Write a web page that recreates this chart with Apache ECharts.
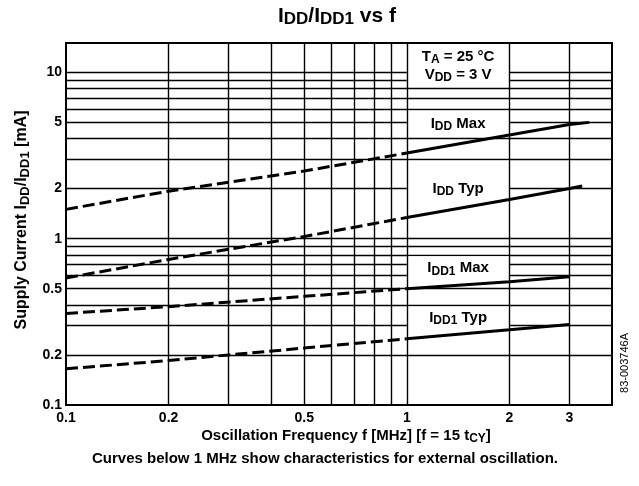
<!DOCTYPE html>
<html><head><meta charset="utf-8">
<script src="https://cdn.jsdelivr.net/npm/echarts@6/dist/echarts.min.js"></script>
<style>html,body{margin:0;padding:0;background:#fff}#c{width:639px;height:486px}</style>
</head><body><div id="c"></div>
<script>
// ---- data ----
const xGridValues = [0.1, 0.2, 0.3, 0.4, 0.5, 0.6, 0.7, 0.8, 0.9, 1, 2, 3];
const xTickLabels = [0.1, 0.2, 0.5, 1, 2, 3];
const yGridValues = [0.1, 0.2, 0.3, 0.4, 0.5, 0.6, 0.7, 0.8, 0.9, 1, 2, 3, 4, 5, 6, 7, 8, 9, 10];
const yTickLabels = [0.1, 0.2, 0.5, 1, 2, 5, 10];

// frequency (MHz), current (mA); dashed = external oscillation (< 1 MHz)
const iddMaxDashed  = [[0.1, 1.5], [0.2, 1.93], [0.5, 2.55], [1, 3.27]];
const iddMaxSolid   = [[1, 3.27], [2, 4.2], [3, 4.85], [3.43, 5.0]];
const iddTypDashed  = [[0.1, 0.58], [0.2, 0.75], [0.5, 1.03], [1, 1.34]];
const iddTypSolid   = [[1, 1.34], [2, 1.72], [3, 2.0], [3.27, 2.07]];
const idd1MaxDashed = [[0.1, 0.355], [0.2, 0.39], [0.5, 0.45], [1, 0.5]];
const idd1MaxSolid  = [[1, 0.5], [2, 0.55], [3, 0.59]];
const idd1TypDashed = [[0.1, 0.165], [0.2, 0.185], [0.3, 0.2], [0.5, 0.22], [1, 0.25]];
const idd1TypSolid  = [[1, 0.25], [2, 0.283], [3, 0.305]];

// label boxes (blank out horizontal grid lines): [x1, y1, x2, y2, text]
const labelBoxes = [
  [1, 8, 2, 15, '{n|T}{s|A}{n| = 25 °C}\n{n|V}{s|DD}{n| = 3 V}'],
  [1, 4, 2, 6, '{n|I}{s|DD}{n| Max}'],
  [1, 1.33, 2, 3, '{n|I}{s|DD}{n| Typ}'],
  [1, 0.55, 2, 0.8, '{n|I}{s|DD1}{n| Max}'],
  [1, 0.28, 2, 0.4, '{n|I}{s|DD1}{n| Typ}']
];

const FONT = '"Liberation Sans", Arial, Helvetica, sans-serif';
const chart = echarts.init(document.getElementById('c'), null, {renderer: 'canvas'});

const richSub = {
  n: {fontFamily: FONT, fontWeight: 'bold', fontSize: 15, color: '#000', lineHeight: 18},
  s: {fontFamily: FONT, fontWeight: 'bold', fontSize: 12, color: '#000', lineHeight: 12, verticalAlign: 'bottom'}
};
const PAD = 1.022; // keep the bounding grid lines of each box visible

function lineSeries(data, dashed) {
  return {
    type: 'line', data: data, showSymbol: false, symbol: 'none', z: 10, silent: true,
    lineStyle: {color: '#000', width: 3, type: dashed ? [12, 5] : 'solid', cap: 'butt'}
  };
}

const option = {
  animation: false,
  backgroundColor: '#fff',
  grid: {left: 66, top: 43, width: 546, height: 362, show: true, z: 20,
         backgroundColor: 'transparent', borderColor: '#000', borderWidth: 2},
  xAxis: {type: 'log', logBase: 10, min: 0.1, max: 4,
          axisLine: {show: false}, axisTick: {show: false}, axisLabel: {show: false},
          splitLine: {show: false}, minorSplitLine: {show: false}},
  yAxis: {type: 'log', logBase: 10, min: 0.1, max: 15,
          axisLine: {show: false}, axisTick: {show: false}, axisLabel: {show: false},
          splitLine: {show: false}, minorSplitLine: {show: false}},
  series: [
    { // horizontal grid + y tick labels
      type: 'line', data: [], silent: true,
      markLine: {
        silent: true, symbol: 'none', z: 1, animation: false,
        lineStyle: {color: '#000', width: 1.4, type: 'solid'},
        label: {show: true, position: 'start', distance: 4, formatter: '{b}',
                fontFamily: FONT, fontWeight: 'bold', fontSize: 14, color: '#000'},
        data: yGridValues.map(v => ({
          yAxis: v, name: String(v),
          label: {show: yTickLabels.indexOf(v) >= 0},
          lineStyle: v === 0.1 ? {color: 'rgba(0,0,0,0)'} : {}
        }))
      }
    },
    { // white label boxes
      type: 'line', data: [], silent: true,
      markArea: {
        silent: true, z: 2,
        itemStyle: {color: '#fff', borderWidth: 0},
        label: {show: true, position: 'inside', rich: richSub},
        data: labelBoxes.map(b => [
          {xAxis: b[0], yAxis: b[1] * PAD, label: {formatter: b[4]}},
          {xAxis: b[2], yAxis: b[3] / PAD}
        ])
      }
    },
    { // vertical grid + x tick labels
      type: 'line', data: [], silent: true,
      markLine: {
        silent: true, symbol: 'none', z: 3, animation: false,
        lineStyle: {color: '#000', width: 1.4, type: 'solid'},
        label: {show: true, position: 'start', distance: 6, formatter: '{b}',
                fontFamily: FONT, fontWeight: 'bold', fontSize: 14, color: '#000'},
        data: xGridValues.map(v => ({
          xAxis: v, name: String(v),
          label: {show: xTickLabels.indexOf(v) >= 0},
          lineStyle: v === 0.1 ? {color: 'rgba(0,0,0,0)'} : {}
        }))
      }
    },
    lineSeries(iddMaxDashed, true), lineSeries(iddMaxSolid, false),
    lineSeries(iddTypDashed, true), lineSeries(iddTypSolid, false),
    lineSeries(idd1MaxDashed, true), lineSeries(idd1MaxSolid, false),
    lineSeries(idd1TypDashed, true), lineSeries(idd1TypSolid, false)
  ],
  graphic: [
    {type: 'text', x: 337, y: 16, silent: true,
     style: {text: '{n|I}{s|DD}{n|/I}{s|DD1}{n| vs f}', align: 'center', verticalAlign: 'middle',
             rich: {n: {fontFamily: FONT, fontWeight: 'bold', fontSize: 21, color: '#000', lineHeight: 24},
                    s: {fontFamily: FONT, fontWeight: 'bold', fontSize: 17, color: '#000', lineHeight: 17, verticalAlign: 'bottom'}}}},
    {type: 'text', x: 22, y: 220, rotation: Math.PI / 2, silent: true,
     style: {text: '{n|Supply Current I}{s|DD}{n|/I}{s|DD1}{n| [mA]}', align: 'center', verticalAlign: 'middle',
             rich: {n: {fontFamily: FONT, fontWeight: 'bold', fontSize: 16, color: '#000', lineHeight: 19},
                    s: {fontFamily: FONT, fontWeight: 'bold', fontSize: 13, color: '#000', lineHeight: 13, verticalAlign: 'bottom'}}}},
    {type: 'text', x: 346, y: 436, silent: true,
     style: {text: '{n|Oscillation Frequency f [MHz] [f = 15 t}{s|CY}{n|]}', align: 'center', verticalAlign: 'middle',
             rich: richSub}},
    {type: 'text', x: 325, y: 459, silent: true,
     style: {text: 'Curves below 1 MHz show characteristics for external oscillation.', align: 'center', verticalAlign: 'middle',
             fontFamily: FONT, fontWeight: 'bold', fontSize: 15, fill: '#000'}},
    {type: 'text', x: 625, y: 363, rotation: Math.PI / 2, silent: true,
     style: {text: '83-003746A', align: 'center', verticalAlign: 'middle',
             fontFamily: FONT, fontWeight: 'normal', fontSize: 11, fill: '#000'}}
  ]
};
chart.setOption(option);
</script>
</body></html>
